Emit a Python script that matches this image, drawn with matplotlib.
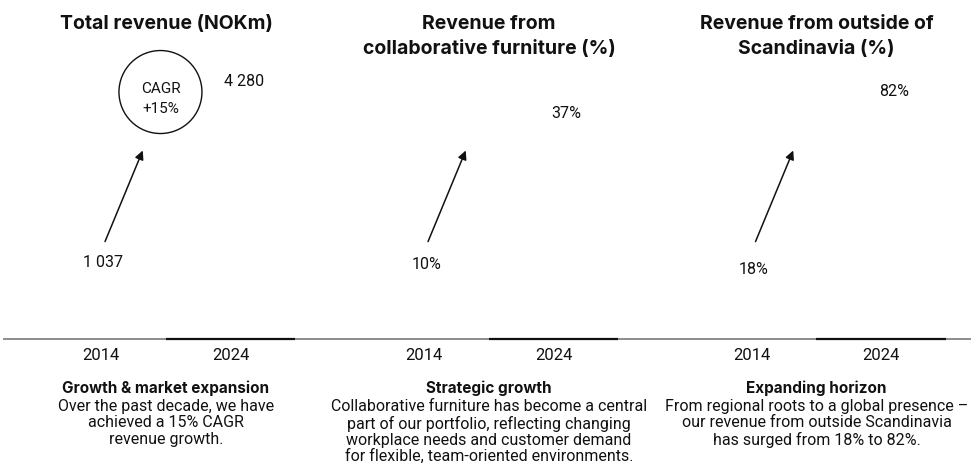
import matplotlib
matplotlib.use('Agg')
import matplotlib.pyplot as plt

years = ['2014', '2024']
revenue = [1037, 4280]
collab_share = [10, 37]
outside_share = [18, 82]

titles = ['Total revenue (NOKm)',
          'Revenue from\ncollaborative furniture (%)',
          'Revenue from outside of\nScandinavia (%)']
headings = ['Growth & market expansion', 'Strategic growth', 'Expanding horizon']
bodies = ['Over the past decade, we have\nachieved a 15% CAGR\nrevenue growth.',
          'Collaborative furniture has become a central\npart of our portfolio, reflecting changing\n'
          'workplace needs and customer demand\nfor flexible, team-oriented environments.',
          'From regional roots to a global presence \u2013\nour revenue from outside Scandinavia\n'
          'has surged from 18% to 82%.']

series = [revenue, collab_share, outside_share]
value_labels = [['1 037', '4 280'], ['10%', '37%'], ['18%', '82%']]
y_tops = [5000, 50, 100]

plt.rcParams['font.family'] = ['Roboto', 'DejaVu Sans']
txt = '#111111'
bold_font = ['Inter', 'Roboto', 'DejaVu Sans']

W, H = 971, 476
fig = plt.figure(figsize=(W / 100, H / 100), dpi=100)

lefts = [4, 327, 654.5]
ax_w, ax_b, ax_h = 328, 137.5, 278.5

for i in range(3):
    ax = fig.add_axes([lefts[i] / W, ax_b / H, ax_w / W, ax_h / H])
    x = [0, 1]
    ax.bar(x, series[i], width=1.0, color='white', edgecolor='none')
    # dark line under the latest bar
    ax.hlines(0, x[1] - 0.5, x[1] + 0.5, color='#111111', lw=1.6, zorder=5, clip_on=False)
    ax.set_xlim(-0.75, -0.75 + ax_w / 129.5)
    ax.set_ylim(0, y_tops[i])

    for s in ['top', 'left', 'right']:
        ax.spines[s].set_visible(False)
    ax.spines['bottom'].set_color('#8c8c8c')
    ax.spines['bottom'].set_linewidth(1.4)
    ax.set_yticks([])
    ax.set_xticks(x)
    ax.set_xticklabels(years, fontsize=12, color=txt)
    ax.tick_params(axis='x', length=0, pad=6.5)

    for j in range(2):
        dx = 2 if j == 0 else 13
        ax.annotate(value_labels[i][j], (x[j], series[i][j]), xytext=(dx, 18.5),
                    textcoords='offset pixels', ha='center', va='center',
                    fontsize=11.5, color=txt)

    ax.annotate('', xy=(0.423, 0.675), xytext=(0.308, 0.348), xycoords='axes fraction',
                arrowprops=dict(arrowstyle='-|>', color='#111111', lw=1.1,
                                mutation_scale=13, shrinkA=0, shrinkB=0))

    cx = 0.5 * 324 / ax_w
    ax.text(cx, 1.16, titles[i], transform=ax.transAxes, ha='center', va='top',
            fontsize=14, fontweight='bold', family=bold_font, color=txt, linespacing=1.45)
    ax.text(cx, -0.152, headings[i], transform=ax.transAxes, ha='center', va='top',
            fontsize=11, fontweight='bold', family=bold_font, color=txt)
    ax.text(cx, -0.218, bodies[i], transform=ax.transAxes, ha='center', va='top',
            fontsize=11.5, color=txt, linespacing=1.1)

    if i == 0:
        ax.scatter([0.477], [0.885], s=3570, facecolors='none', edgecolors='#111111',
                   linewidths=1.0, transform=ax.transAxes, clip_on=False)
        ax.text(0.477, 0.86, 'CAGR\n+15%', transform=ax.transAxes, ha='center', va='center',
                fontsize=11, color=txt, linespacing=1.55)

fig.savefig('out.png', dpi=100, facecolor='white')
